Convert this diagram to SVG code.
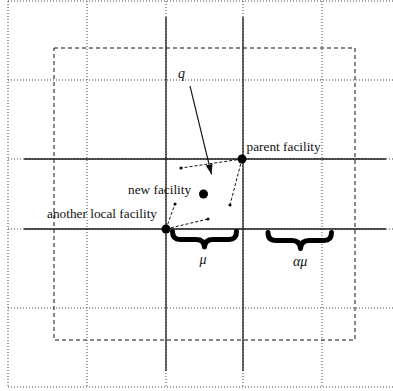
<svg xmlns="http://www.w3.org/2000/svg" width="393" height="391" viewBox="0 0 393 391">
  <style>
    .grid { stroke: #444; stroke-width: 1; stroke-dasharray: 1 2; fill: none; }
    .axis { stroke: #1a1a1a; stroke-width: 1.3; fill: none; }
    .region { stroke: #111; stroke-width: 1; stroke-dasharray: 4 3; fill: none; }
    .link { stroke: #111; stroke-width: 1; stroke-dasharray: 3 2; fill: none; }
    .brace { stroke: #000; stroke-width: 5; fill: none; stroke-linecap: round; stroke-linejoin: round; }
    .lbl { font-family: "Liberation Serif", "Times New Roman", serif; font-size: 13.3px; fill: #111; }
    .math { font-family: "Liberation Serif", "Times New Roman", serif; font-style: italic; font-size: 14px; fill: #111; }
  </style>
  <defs>
    <marker id="tri" viewBox="0 0 10 10" refX="10" refY="5" markerWidth="10" markerHeight="10" markerUnits="userSpaceOnUse" orient="auto">
      <path d="M0,1.5 L10,5 L0,8.5 Z" fill="#111"/>
    </marker>
  </defs>
  <rect width="393" height="391" fill="#fff"/>

  <!-- dotted background grid -->
  <g id="grid">
    <line class="grid" x1="8" y1="1" x2="393" y2="1"/>
    <line class="grid" x1="8" y1="80" x2="393" y2="80"/>
    <line class="grid" x1="8" y1="159" x2="393" y2="159"/>
    <line class="grid" x1="8" y1="229" x2="393" y2="229"/>
    <line class="grid" x1="8" y1="308" x2="393" y2="308"/>
    <line class="grid" x1="8" y1="387" x2="393" y2="387"/>
    <line class="grid" x1="8" y1="1" x2="8" y2="387"/>
    <line class="grid" x1="87" y1="1" x2="87" y2="387"/>
    <line class="grid" x1="166" y1="1" x2="166" y2="387"/>
    <line class="grid" x1="243" y1="1" x2="243" y2="387"/>
    <line class="grid" x1="322" y1="1" x2="322" y2="387"/>
  </g>

  <!-- dashed region -->
  <rect id="region" class="region" x="54" y="48" width="301" height="292"/>

  <!-- solid cell boundaries -->
  <g id="axes">
    <line class="axis" x1="24" y1="159" x2="386" y2="159"/>
    <line class="axis" x1="24" y1="229" x2="386" y2="229"/>
    <line class="axis" x1="166" y1="17" x2="166" y2="371"/>
    <line class="axis" x1="243" y1="17" x2="243" y2="371"/>
  </g>

  <!-- connectors -->
  <g id="connectors">
    <line class="link" x1="242" y1="159" x2="181" y2="168"/>
    <line class="link" x1="242" y1="159" x2="230" y2="205"/>
    <line class="link" x1="166" y1="229" x2="175" y2="204"/>
    <line class="link" x1="166" y1="229" x2="208" y2="219"/>
    <line x1="190" y1="86" x2="211.5" y2="174.5" stroke="#111" stroke-width="1.1" marker-end="url(#tri)"/>
    <circle cx="181" cy="168" r="1.6" fill="#111"/>
    <circle cx="230" cy="205" r="1.6" fill="#111"/>
    <circle cx="175" cy="204" r="1.6" fill="#111"/>
    <circle cx="208" cy="219" r="1.6" fill="#111"/>
  </g>

  <g id="q">
    <text class="math" x="178" y="78">q</text>
  </g>

  <g id="parent-facility">
    <circle cx="242" cy="159" r="4.5" fill="#000"/>
    <text class="lbl" x="246.5" y="150.5">parent facility</text>
  </g>

  <g id="new-facility">
    <circle cx="203.5" cy="194" r="4.5" fill="#000"/>
    <text class="lbl" x="128" y="193.5">new facility</text>
  </g>

  <g id="another-local-facility">
    <circle cx="166" cy="229" r="4.5" fill="#000"/>
    <text class="lbl" x="47" y="218.3">another local facility</text>
  </g>

  <g id="mu">
    <path class="brace" d="M172.5,231.5 Q172.5,239.5 180,239.5 L196,239.5 Q204,239.5 204.5,247 Q205,239.5 213,239.5 L229,239.5 Q236.5,239.5 236.5,231.5"/>
    <text class="math" x="199.5" y="264">μ</text>
  </g>

  <g id="alpha-mu">
    <path class="brace" d="M268,232.5 Q268,240.5 276,240.5 L292,240.5 Q300,240.5 300.5,248.5 Q301,240.5 309,240.5 L324,240.5 Q331.5,240.5 331.5,232.5"/>
    <text class="math" x="293" y="266">αμ</text>
  </g>
</svg>
